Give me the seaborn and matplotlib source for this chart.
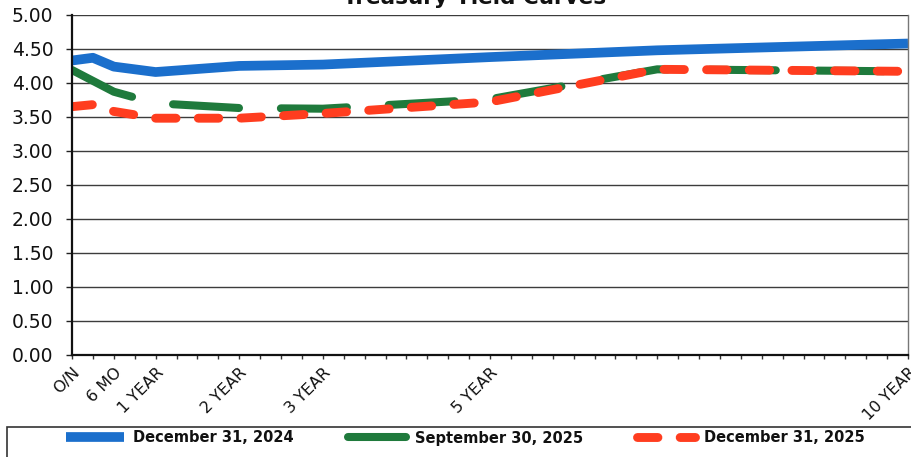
import matplotlib
matplotlib.use("Agg")
import matplotlib.pyplot as plt
from matplotlib.patches import Rectangle
import seaborn as sns
import pandas as pd

# ---- data ----
maturity_pos = [0, 1, 2, 4, 8, 12, 20, 28, 40]   # quarter-year category positions
maturity_names = ["O/N", "3 MO", "6 MO", "1 YEAR", "2 YEAR", "3 YEAR", "5 YEAR", "7 YEAR", "10 YEAR"]
dec_2024 = [4.33, 4.37, 4.24, 4.16, 4.25, 4.27, 4.38, 4.48, 4.58]
sep_2025 = [4.19, 4.03, 3.87, 3.70, 3.63, 3.62, 3.76, 4.20, 4.17]
dec_2025 = [3.65, 3.68, 3.58, 3.48, 3.48, 3.55, 3.72, 4.20, 4.17]
series_names = ["December 31, 2024", "September 30, 2025", "December 31, 2025"]
tick_label_pos = [0, 2, 4, 8, 12, 20, 40]
tick_label_text = ["O/N", "6 MO", "1 YEAR", "2 YEAR", "3 YEAR", "5 YEAR", "10 YEAR"]
y_ticks = [0.0, 0.5, 1.0, 1.5, 2.0, 2.5, 3.0, 3.5, 4.0, 4.5, 5.0]

sns.set_theme(style="white")
plt.rcParams["font.family"] = ["DejaVu Sans"]

fig = plt.figure(figsize=(9.11, 4.57), dpi=100)
L, R, B, T = 72 / 911, 908 / 911, 1 - 354.5 / 457, 1 - 15 / 457
ax = fig.add_axes([L, B, R - L, T - B])

colors = ["#1b6fcc", "#1f7a3c", "#ff3d1f"]
values = [dec_2024, sep_2025, dec_2025]
styles = ["-", (0, (8.2, 5.2)), (0, (2.3, 2.5))]
widths = [7.0, 5.8, 6.4]

for name, vals, col, ls, lw in zip(series_names, values, colors, styles, widths):
    df = pd.DataFrame({"pos": maturity_pos, "yield": vals})
    sns.lineplot(data=df, x="pos", y="yield", ax=ax, color=col, linewidth=lw,
                 linestyle=ls, label=name, legend=False)
    line = ax.lines[-1]
    line.set_dash_capstyle("round")
    line.set_solid_capstyle("butt")
    line.set_solid_joinstyle("round")
    line.set_dash_joinstyle("round")

ax.set_xlim(0, 40)
ax.set_ylim(0, 5)
ax.set_xlabel("")
ax.set_ylabel("")

ax.set_yticks(y_ticks)
ax.set_yticklabels([f"{v:.2f}" for v in y_ticks], fontsize=13.5, color="#111111")
ax.set_xticks(list(range(41)))
xl = [""] * 41
for p, t in zip(tick_label_pos, tick_label_text):
    xl[p] = t
ax.set_xticklabels(xl, fontsize=11.5, rotation=45, ha="right", va="top",
                   rotation_mode="anchor", color="#111111")

ax.tick_params(axis="y", direction="out", length=4.5, width=1.0, color="#222222", pad=9, left=True)
ax.tick_params(axis="x", direction="out", length=3, width=1.0, color="#333333", pad=4.5, bottom=True)

ax.yaxis.grid(True, color="#3c3c3c", linewidth=1.0)
ax.xaxis.grid(False)
ax.set_axisbelow(True)

for s in ["left", "bottom"]:
    ax.spines[s].set_color("#111111")
    ax.spines[s].set_linewidth(1.6)
ax.spines["top"].set_visible(False)
ax.spines["right"].set_color("#777777")
ax.spines["right"].set_linewidth(1.0)

fig.text(0.521, 1 - 4 / 457, "Treasury Yield Curves", ha="center", va="baseline",
         fontsize=15.5, fontweight="bold", color="#111111")

# legend below the plot in a boxed strip
handles = ax.lines[:3]
leg = fig.legend(handles, series_names, loc="center left",
                 bbox_to_anchor=(66 / 911, 1 - 438 / 457), ncol=3, frameon=False,
                 prop={"size": 10.5, "weight": "bold"}, handlelength=4.0,
                 handletextpad=0.6, columnspacing=3.7, borderpad=0, borderaxespad=0)
for t in leg.get_texts():
    t.set_color("#111111")

fig.patches.append(Rectangle((7 / 911, -0.05), 1.0, 0.05 + (457 - 427) / 457,
                             transform=fig.transFigure, fill=False,
                             edgecolor="#333333", linewidth=1.2))

fig.savefig("out.png", dpi=100, facecolor="white")
